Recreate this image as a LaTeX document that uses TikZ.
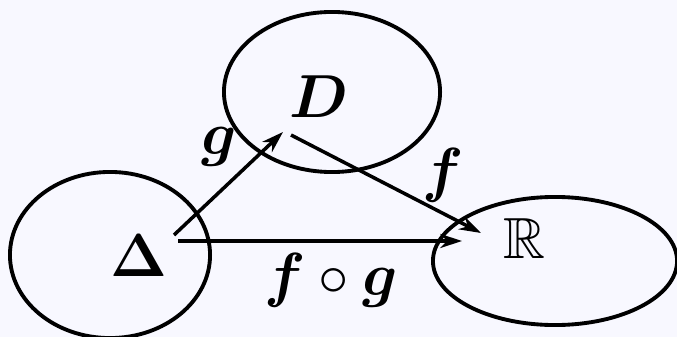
\documentclass[tikz,border=0pt]{standalone}
\usepackage{amsmath}
\usepackage{amssymb}
\usepackage{tikz}
\usetikzlibrary{arrows.meta, shapes.geometric, positioning}
\definecolor{pagebg}{RGB}{248,248,255}
\tikzset{
  setblob/.style={
    ellipse, draw=black, line width=1.1pt,
    inner sep=0pt
  },
  maplabel/.style={
    inner sep=0pt, anchor=base,
    font=\fontsize{16.5}{20}\selectfont
  },
  maparrow/.style={-{Stealth[length=6.2pt, width=4pt]}, line width=1pt},
}

\begin{document}
\begin{tikzpicture}[x=0.01cm, y=-0.01cm]
  \fill[pagebg] (0,0) rectangle (677,337);
  \useasboundingbox (0,0) rectangle (677,337);

  % the three sets
  \node[setblob, minimum width=2.00cm, minimum height=1.66cm] (deltaset) at (110,255) {};
  \node[setblob, minimum width=2.16cm, minimum height=1.60cm] (dset)     at (332,92)  {};
  \node[setblob, minimum width=2.44cm, minimum height=1.28cm] (rset)     at (555,261) {};

  % set names
  \node[maplabel] (deltaname) at (139,276) {$\boldsymbol{\Delta}$};
  \node[maplabel] (dname)     at (319,118) {$\boldsymbol{D}$};
  \node[maplabel] (rname)     at (524,258) {$\mathbb{R}$};

  % arrow ends
  \coordinate (gfrom) at (174,235);
  \coordinate (gto)   at (283,132);
  \coordinate (ffrom) at (291,135);
  \coordinate (fto)   at (481,233);
  \coordinate (cfrom) at (178,241);
  \coordinate (cto)   at (462,241);

  \draw[maparrow] (gfrom) -- (gto);
  \draw[maparrow] (ffrom) -- (fto);
  \draw[maparrow] (cfrom) -- (cto);

  % map names
  \node[maplabel] (gname)    at (219,155) {$\boldsymbol{g}$};
  \node[maplabel] (fname)    at (443,190) {$\boldsymbol{f}$};
  \node[maplabel] (compname) at (331,295) {$\boldsymbol{f}\circ\boldsymbol{g}$};
\end{tikzpicture}
\end{document}
